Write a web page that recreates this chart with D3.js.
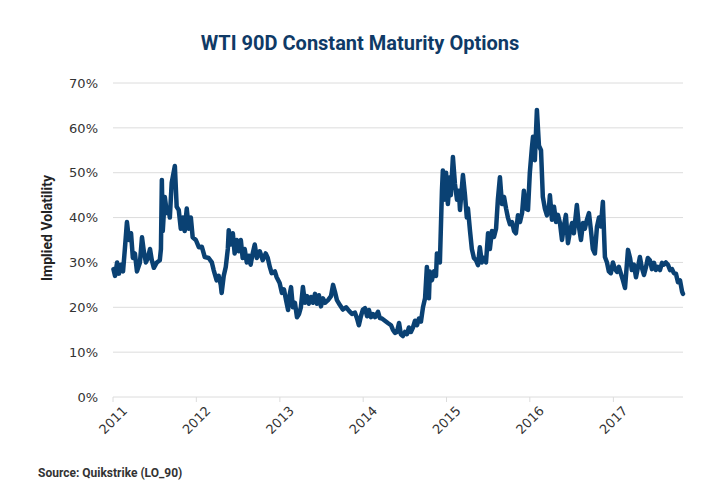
<!DOCTYPE html>
<html>
<head>
<meta charset="utf-8">
<script src="https://cdn.jsdelivr.net/npm/d3@7"></script>
<style>
  body { margin: 0; background: #fff; }
  #chart-container { width: 720px; height: 500px; }
</style>
</head>
<body>
<div id="chart-container"></div>
<script>
// values (implied vol, %)
const dates = [
  "2011-01-03","2011-01-10","2011-01-19","2011-01-27","2011-02-05","2011-02-14","2011-02-22","2011-03-03","2011-03-12","2011-03-21",
  "2011-03-29","2011-04-07","2011-04-16","2011-04-29","2011-05-08","2011-05-16","2011-05-25","2011-06-03","2011-06-12","2011-06-20",
  "2011-06-29","2011-07-12","2011-07-25","2011-07-30","2011-08-03","2011-08-07","2011-08-16","2011-08-25","2011-09-02","2011-09-07",
  "2011-09-15","2011-09-29","2011-10-07","2011-10-16","2011-10-25","2011-11-03","2011-11-11","2011-11-20","2011-11-29","2011-12-08",
  "2011-12-16","2011-12-30","2012-01-12","2012-01-25","2012-02-07","2012-02-24","2012-03-09","2012-03-17","2012-03-30","2012-04-08",
  "2012-04-17","2012-04-21","2012-04-30","2012-05-09","2012-05-18","2012-05-22","2012-05-31","2012-06-09","2012-06-17","2012-06-26",
  "2012-07-05","2012-07-14","2012-07-22","2012-07-31","2012-08-09","2012-08-18","2012-08-26","2012-09-04","2012-09-13","2012-09-22",
  "2012-10-05","2012-10-18","2012-10-31","2012-11-09","2012-11-18","2012-11-26","2012-12-10","2012-12-18","2012-12-31","2013-01-10",
  "2013-01-19","2013-01-28","2013-02-06","2013-02-10","2013-02-19","2013-02-27","2013-03-08","2013-03-17","2013-03-26","2013-04-03",
  "2013-04-12","2013-04-21","2013-04-30","2013-05-08","2013-05-17","2013-05-26","2013-06-04","2013-06-12","2013-06-21","2013-06-30",
  "2013-07-09","2013-07-18","2013-07-31","2013-08-13","2013-08-22","2013-08-30","2013-09-08","2013-09-21","2013-10-04","2013-10-18",
  "2013-10-31","2013-11-13","2013-11-26","2013-12-05","2013-12-13","2013-12-22","2013-12-31","2014-01-09","2014-01-18","2014-01-26",
  "2014-02-04","2014-02-13","2014-02-22","2014-03-07","2014-03-15","2014-03-24","2014-04-06","2014-04-19","2014-05-03","2014-05-11",
  "2014-05-20","2014-05-29","2014-06-07","2014-06-15","2014-06-24","2014-07-03","2014-07-12","2014-07-20","2014-07-29","2014-08-07",
  "2014-08-16","2014-08-25","2014-09-02","2014-09-11","2014-09-20","2014-09-29","2014-10-07","2014-10-16","2014-10-20","2014-10-29",
  "2014-11-07","2014-11-16","2014-11-20","2014-11-29","2014-12-03","2014-12-12","2014-12-16","2014-12-25","2014-12-30","2015-01-07",
  "2015-01-16","2015-01-20","2015-01-29","2015-02-07","2015-02-16","2015-02-24","2015-03-01","2015-03-14","2015-03-23","2015-03-31",
  "2015-04-05","2015-04-14","2015-04-22","2015-05-01","2015-05-10","2015-05-19","2015-05-27","2015-06-05","2015-06-14","2015-06-23",
  "2015-07-02","2015-07-10","2015-07-19","2015-07-28","2015-08-06","2015-08-14","2015-08-23","2015-09-01","2015-09-10","2015-09-19",
  "2015-09-27","2015-10-06","2015-10-15","2015-10-24","2015-11-01","2015-11-10","2015-11-19","2015-11-28","2015-12-06","2015-12-15",
  "2015-12-24","2016-01-01","2016-01-10","2016-01-15","2016-01-23","2016-02-01","2016-02-10","2016-02-19","2016-02-27","2016-03-07",
  "2016-03-16","2016-03-25","2016-03-29","2016-04-07","2016-04-16","2016-04-25","2016-05-03","2016-05-12","2016-05-21","2016-05-29",
  "2016-06-07","2016-06-16","2016-06-25","2016-07-04","2016-07-12","2016-07-25","2016-08-03","2016-08-12","2016-08-21","2016-08-29",
  "2016-09-07","2016-09-16","2016-09-25","2016-10-03","2016-10-12","2016-10-21","2016-10-30","2016-11-07","2016-11-16","2016-11-25",
  "2016-12-04","2016-12-12","2016-12-21","2016-12-30","2017-01-08","2017-01-17","2017-01-25","2017-02-03","2017-02-12","2017-02-21",
  "2017-03-06","2017-03-15","2017-03-23","2017-04-01","2017-04-10","2017-04-19","2017-04-27","2017-05-06","2017-05-15","2017-05-24",
  "2017-06-01","2017-06-10","2017-06-19","2017-06-28","2017-07-06","2017-07-15","2017-07-24","2017-08-02","2017-08-10","2017-08-19",
  "2017-08-28","2017-09-06","2017-09-15","2017-09-23","2017-10-02","2017-10-11","2017-10-20","2017-10-29","2017-11-02"
];

const vols = [
  28.5,27,30,27.5,29.5,28,33,39,35,36.5,
  31,32,28,30,35.6,32.5,30,31,33,30.5,
  28.8,30,30.5,33,48.4,37,44.6,41,41.7,40,
  47.7,51.5,42.4,41.7,37.5,40,37,42,37.5,40,
  35.6,35,33.4,33.5,31.2,31,30,28.3,26,27,
  25,23.2,27,29,33,37.2,34,36.5,32,35,
  32.5,35,31,33,30,31.5,29.5,32,34,31,
  32.5,30.5,32,31,29,27.6,28,26.7,25.4,23.2,
  24,21.6,19.4,22,24.5,20,21,17.8,18.5,20,
  24.5,21,22.5,20.8,22.3,21,23,20.8,22.7,20.2,
  22,21,21.6,22.5,25,23.5,21.6,20.5,19.5,20,
  19.2,18.5,18.8,17.5,16,18,19.5,19.8,18,19.4,
  17.8,18.5,17.8,19,17.6,17.5,17,16.5,16,15,
  14.3,14.5,16.5,14,13.6,14.5,14,15.5,14.5,15.5,
  17,16,17.5,16.8,20,22,29,22,28,26,
  28,27,32,31,30,46,50.5,44,50,43,
  49,45,53.5,47.5,44,46,41.7,49.5,45,40,
  42,37,33,31,30.5,29.4,33.4,30,31,30,
  36.5,33,37,35.7,37.5,44,49,43,44.6,42,
  40,38.5,39,37,36.5,40.5,39,41,46,42,
  41.7,50,55.5,58,52.8,64,56,55,44.6,42,
  40.5,42.5,45,39.5,42.4,39,40.6,38.8,35,38,
  40.6,34.3,37,38.8,36.5,42.8,38,35,38.8,37.5,
  39.5,41,37,33,32,37.9,40,38,43.5,31.2,
  30,28,27.6,30,28.5,27.9,29,27.5,26,24.3,
  32.8,31,28.3,29.5,26.7,29,31.2,28.8,27.2,29,
  31,30.5,28.5,29.9,28.3,29,28.3,29.9,29.5,30,
  29.5,28.3,28.5,27.6,27.5,25.6,26,23.5,23
];

const yTicks = [0, 10, 20, 30, 40, 50, 60, 70];
const yearTicks = ["2011", "2012", "2013", "2014", "2015", "2016", "2017"];

const title = "WTI 90D Constant Maturity Options";
const yTitle = "Implied Volatility";
const source = "Source: Quikstrike (LO_90)";

const parse = d3.timeParse("%Y-%m-%d");
const data = dates.map((d, i) => ({ date: parse(d), v: vols[i] }));

const W = 720, H = 500;
const margin = { top: 83, right: 37, bottom: 103, left: 113 };
const width = W - margin.left - margin.right;
const height = H - margin.top - margin.bottom;

const svg = d3.select("#chart-container")
  .append("svg")
  .attr("width", W)
  .attr("height", H);

const g = svg.append("g")
  .attr("transform", `translate(${margin.left},${margin.top})`);

const x = d3.scaleTime()
  .domain([new Date(+yearTicks[0], 0, 1), data[data.length - 1].date])
  .range([0, width]);

const y = d3.scaleLinear()
  .domain([0, 70])
  .range([height, 0]);

// gridlines
g.selectAll(".grid")
  .data(yTicks)
  .join("line")
  .attr("class", "grid")
  .attr("x1", 0)
  .attr("x2", width)
  .attr("y1", d => y(d))
  .attr("y2", d => y(d))
  .attr("stroke", "#dcdcdc")
  .attr("stroke-width", 1);

// y tick labels
g.selectAll(".ylab")
  .data(yTicks)
  .join("text")
  .attr("class", "ylab")
  .attr("x", -15)
  .attr("y", d => y(d))
  .attr("dy", "0.36em")
  .attr("text-anchor", "end")
  .style("font-family", "'DejaVu Sans', sans-serif")
  .style("font-size", "13px")
  .style("fill", "#333")
  .text(d => d + "%");

// x axis ticks + rotated labels
const years = yearTicks.map(t => new Date(+t, 0, 1));
g.selectAll(".xtick")
  .data(years)
  .join("line")
  .attr("class", "xtick")
  .attr("x1", d => x(d))
  .attr("x2", d => x(d))
  .attr("y1", height)
  .attr("y2", height + 5)
  .attr("stroke", "#dcdcdc");

g.selectAll(".xlab")
  .data(years)
  .join("text")
  .attr("class", "xlab")
  .attr("transform", d => `translate(${x(d)},${height + 23}) rotate(-45)`)
  .attr("text-anchor", "middle")
  .attr("dy", "0.36em")
  .style("font-family", "'DejaVu Sans', sans-serif")
  .style("font-size", "13px")
  .style("fill", "#333")
  .text(d => d3.timeFormat("%Y")(d));

// the series
const line = d3.line()
  .x(d => x(d.date))
  .y(d => y(d.v));

g.append("path")
  .datum(data)
  .attr("d", line)
  .attr("fill", "none")
  .attr("stroke", "#0a4173")
  .attr("stroke-width", 4.5)
  .attr("stroke-linejoin", "round")
  .attr("stroke-linecap", "round");

// titles
svg.append("text")
  .attr("x", 360)
  .attr("y", 50)
  .attr("text-anchor", "middle")
  .style("font-family", "Roboto, sans-serif")
  .style("font-weight", "bold")
  .style("font-size", "20px")
  .style("fill", "#0f3a66")
  .text(title);

svg.append("text")
  .attr("transform", "translate(52,228) rotate(-90)")
  .attr("text-anchor", "middle")
  .style("font-family", "Roboto, sans-serif")
  .style("font-weight", "bold")
  .style("font-size", "14px")
  .style("fill", "#222")
  .text(yTitle);

svg.append("text")
  .attr("x", 38)
  .attr("y", 477)
  .style("font-family", "Roboto, sans-serif")
  .style("font-weight", "bold")
  .style("font-size", "12px")
  .style("fill", "#333")
  .text(source);
</script>
</body>
</html>
